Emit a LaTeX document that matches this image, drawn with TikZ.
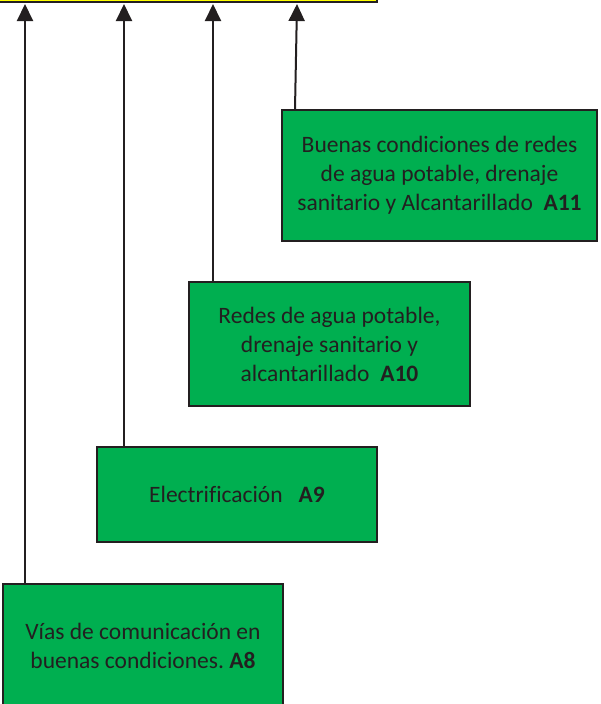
\documentclass[tikz,border=0pt]{standalone}
\usepackage{fontspec}
\setmainfont{Carlito}[Ligatures=CommonOff]
\frenchspacing
\usetikzlibrary{arrows.meta}
\definecolor{boxgreen}{HTML}{00AF50}
\definecolor{ink}{HTML}{231F20}
\definecolor{topyellow}{HTML}{FFFF00}
\begin{document}
\begin{tikzpicture}[x=1pt,y=-1pt,
  gbox/.style={draw=ink, line width=2pt, fill=boxgreen, text=ink, align=center,
    inner sep=0pt, font=\fontsize{23.5}{29}\selectfont},
  arr/.style={draw=ink, line width=2pt, -{Triangle[width=16pt,length=17pt]}}]
\useasboundingbox (0,0) rectangle (600,704);
\clip (0,0) rectangle (600,704);
\draw[draw=ink, line width=2pt, fill=topyellow] (-5,-30) rectangle (377,2);
\node[gbox, minimum width=315pt, minimum height=131pt] (a11) at (439.5,175.5)
  {Buenas condiciones de redes\\de agua potable, drenaje\\sanitario y Alcantarillado\ \ \textbf{A11}};
\node[gbox, minimum width=281pt, minimum height=124pt] (a10) at (329.5,344)
  {Redes de agua potable,\\drenaje sanitario y\\alcantarillado\ \ \textbf{A10}};
\node[gbox, minimum width=280pt, minimum height=95pt] (a9) at (237,494.5)
  {Electrificación\ \ \ \textbf{A9}};
\node[gbox, minimum width=280pt, minimum height=124pt] (a8) at (143,646)
  {Vías de comunicación en\\buenas condiciones. \textbf{A8}};
\coordinate (t8) at (25,4);
\coordinate (t9) at (124,4);
\coordinate (t10) at (213,4);
\coordinate (t11) at (297,4);
\draw[arr] (a8.north -| t8) -- (t8);
\draw[arr] (a9.north -| t9) -- (t9);
\draw[arr] (a10.north -| t10) -- (t10);
\draw[arr] ([xshift=14pt]a11.north west) -- (t11);
\end{tikzpicture}
\end{document}
